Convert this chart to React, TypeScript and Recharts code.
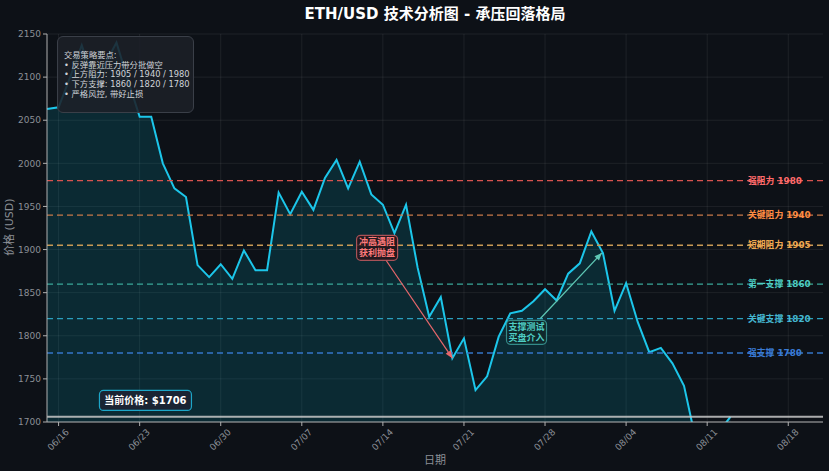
import React from 'react';
import { AreaChart, Area, XAxis, YAxis, CartesianGrid, ReferenceLine, ReferenceDot } from 'recharts';

// daily closes, day 0 = 06/15
const prices = [
    2063, 2065, 2100, 2137, 2097, 2115, 2140, 2096, 2054, 2054,
    2000, 1971, 1961, 1882, 1868, 1883, 1866, 1899, 1876, 1876,
    1966, 1941, 1967, 1946, 1983, 2004, 1971, 2002, 1964, 1952,
    1919, 1952, 1879, 1822, 1845, 1774, 1797, 1737, 1753, 1799,
    1826, 1829, 1840, 1854, 1841, 1872, 1884, 1921, 1896, 1829,
    1861, 1816, 1781, 1786, 1768, 1742, 1680, 1672, 1688, 1706,
];

const tickDays = [1, 8, 15, 22, 29, 36, 43, 50, 57, 64];
const tickLabels = ['06/16', '06/23', '06/30', '07/07', '07/14', '07/21', '07/28', '08/04', '08/11', '08/18'];
const yTicks = [1700, 1750, 1800, 1850, 1900, 1950, 2000, 2050, 2100, 2150];

const levelValues = [1980, 1940, 1905, 1860, 1820, 1780];
const levelNames = ['强阻力 1980', '关键阻力 1940', '短期阻力 1905', '第一支撑 1860', '关键支撑 1820', '强支撑 1780'];
const levelLineColors = ['#d9534f', '#c8794a', '#c99a55', '#3aa89a', '#2aa0be', '#3576c9'];
const levelTextColors = ['#ff6b6b', '#ff8c42', '#f0a850', '#4ecdc4', '#45b7d1', '#3a7bd5'];

const currentPrice = 1706;
const strategyLines = ['交易策略要点:', '• 反弹靠近压力带分批做空', '• 上方阻力: 1905 / 1940 / 1980', '• 下方支撑: 1860 / 1820 / 1780', '• 严格风控, 带好止损'];

const data = prices.map((p, i) => ({ day: i, price: p }));

const FONT = '"DejaVu Sans", "Noto Sans CJK SC", sans-serif';

const XTick = (props: any) => {
    const { x, y, payload } = props;
    const idx = tickDays.indexOf(payload.value);
    return (
        <g transform={`translate(${x},${y + 12}) rotate(-45)`}>
            <text textAnchor="middle" dominantBaseline="middle" fill="#8b8f96" fontSize={9} fontFamily={FONT}>
                {tickLabels[idx]}
            </text>
        </g>
    );
};

const levelLabel = (text: string, color: string) => (props: any) => {
    const vb = props.viewBox;
    return (
        <text x={vb.x + vb.width - 75} y={vb.y} dominantBaseline="central" fill={color}
            fontSize={8.8} fontWeight="bold" fontFamily={FONT}>
            {text}
        </text>
    );
};

const noteBox = (lines: string[], color: string, border: string, fill: string, w: number, h: number, size: number) => (props: any) => {
    const { cx, cy } = props;
    return (
        <g>
            <rect x={cx - w / 2} y={cy - h / 2} width={w} height={h} rx={4} fill={fill} stroke={border} strokeWidth={1.2} />
            {lines.map((l, i) => (
                <text key={i} x={cx} y={cy + (i - (lines.length - 1) / 2) * 11} textAnchor="middle" dominantBaseline="central"
                    fill={color} fontSize={size} fontWeight="bold" fontFamily={FONT}>{l}</text>
            ))}
        </g>
    );
};

const arrow = (color: string) => (props: any) => {
    const { x1, y1, x2, y2 } = props;
    const a = Math.atan2(y2 - y1, x2 - x1);
    const len = 8;
    const p1 = [x2 - len * Math.cos(a - 0.4), y2 - len * Math.sin(a - 0.4)];
    const p2 = [x2 - len * Math.cos(a + 0.4), y2 - len * Math.sin(a + 0.4)];
    return (
        <g>
            <line x1={x1} y1={y1} x2={x2} y2={y2} stroke={color} strokeWidth={1.2} />
            <polygon points={`${x2},${y2} ${p1[0]},${p1[1]} ${p2[0]},${p2[1]}`} fill={color} />
        </g>
    );
};

function App() {
    return (
        <div style={{ position: 'absolute', left: 0, top: 0, width: 829, height: 471, background: '#0d1117', fontFamily: FONT }}>
            <div style={{ position: 'absolute', left: 0, width: 870, top: 2, textAlign: 'center', color: '#ffffff', fontSize: 15, fontWeight: 'bold' }}>
                ETH/USD 技术分析图 - 承压回落格局
            </div>
            <AreaChart width={829} height={471} data={data} margin={{ top: 34, right: 6, left: 7, bottom: 9 }}>
                <CartesianGrid stroke="rgba(255,255,255,0.07)" horizontalValues={yTicks} verticalValues={tickDays} />
                <XAxis dataKey="day" type="number" domain={[0, 67]} ticks={tickDays} tick={<XTick />}
                    stroke="#b0b0b0" tickSize={4} height={40} interval={0}
                    label={{ value: '日期', position: 'insideBottom', offset: -2, fill: '#8b8f96', fontSize: 11, fontFamily: FONT }} />
                <YAxis type="number" domain={[1700, 2150]} ticks={yTicks} allowDataOverflow width={40}
                    stroke="#b0b0b0" tickSize={4} interval={0}
                    tick={{ fill: '#8b8f96', fontSize: 9, fontFamily: FONT }}
                    label={{ value: '价格 (USD)', angle: -90, position: 'insideLeft', offset: 2, dy: 28, fill: '#8b8f96', fontSize: 11, fontFamily: FONT }} />
                <Area type="linear" dataKey="price" stroke="#1cc6ea" strokeWidth={2} fill="#00bcd4" fillOpacity={0.15}
                    isAnimationActive={false} dot={false} activeDot={false} />
                {levelValues.map((v, i) => (
                    <ReferenceLine key={v} y={v} stroke={levelLineColors[i]} strokeDasharray="6 4" strokeWidth={1.3}
                        label={levelLabel(levelNames[i], levelTextColors[i])} />
                ))}
                <ReferenceLine y={currentPrice} stroke="#c8c8c8" strokeWidth={2} strokeOpacity={0.85} />
                <ReferenceLine segment={[{ x: 29.3, y: 1887 }, { x: 35, y: 1774 }]} shape={arrow('#e8676b')} />
                <ReferenceLine segment={[{ x: 42.6, y: 1820 }, { x: 47.9, y: 1896 }]} shape={arrow('#5fc8b5')} />
                <ReferenceDot x={28.5} y={1902} r={0} ifOverflow="visible"
                    shape={noteBox(['冲高遇阻', '获利抛盘'], '#ff7b7b', 'rgba(232,103,107,0.7)', 'rgba(40,22,28,0.85)', 41, 25, 9)} />
                <ReferenceDot x={41.4} y={1804} r={0} ifOverflow="visible"
                    shape={noteBox(['支撑测试', '买盘介入'], '#4ecdc4', 'rgba(78,205,196,0.6)', 'rgba(16,40,44,0.85)', 40, 24, 9)} />
                <ReferenceDot x={8.5} y={1725} r={0} ifOverflow="visible"
                    shape={noteBox([`当前价格: $${currentPrice}`], '#ffffff', '#1ca6c8', '#1a2433', 92, 20, 10)} />
            </AreaChart>
            <div style={{
                position: 'absolute', left: 57, top: 36, width: 137, height: 77, boxSizing: 'border-box',
                background: 'rgba(28,32,40,0.88)', border: '1px solid #3a3f48', borderRadius: 6,
                padding: '14px 0 0 6px', color: '#cfd3d8', fontSize: 8.3, lineHeight: '9.7px', whiteSpace: 'nowrap',
            }}>
                {strategyLines.map((l, i) => <div key={i}>{l}</div>)}
            </div>
        </div>
    );
}

export default App;
